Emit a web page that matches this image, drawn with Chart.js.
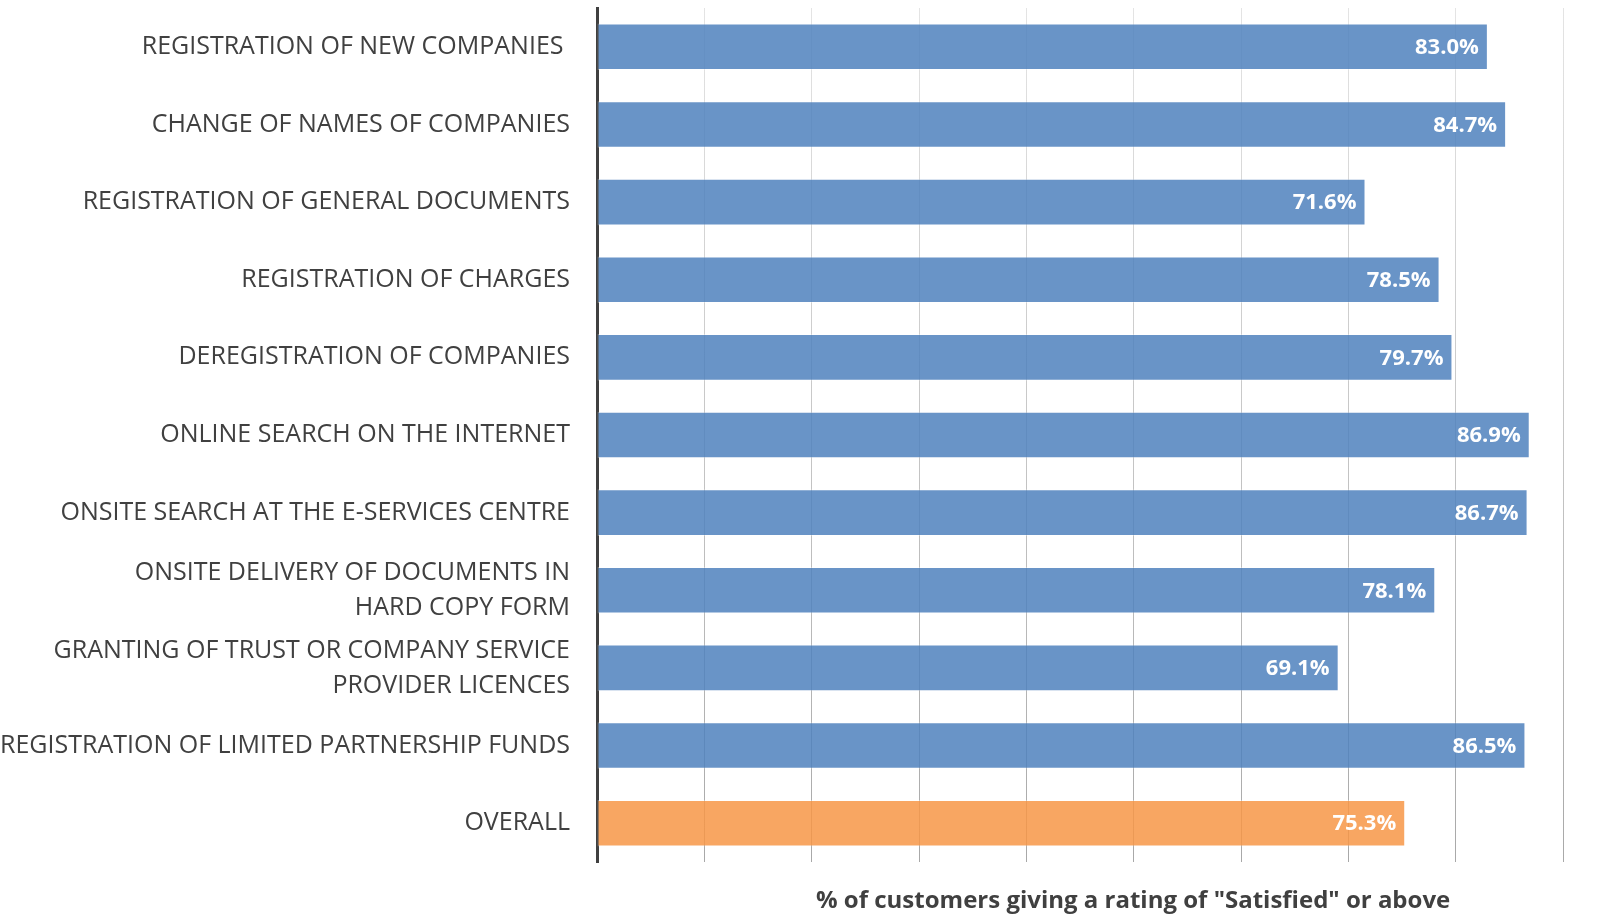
<!DOCTYPE html>
<html>
<head>
<meta charset="utf-8">
<script src="https://cdn.jsdelivr.net/npm/chart.js@4/dist/chart.umd.min.js"></script>
<style>
  html, body { margin: 0; padding: 0; background: #fff; }
  #wrap { width: 1612px; height: 920px; position: relative; }
</style>
</head>
<body>
<div id="wrap"><canvas id="chart"></canvas></div>
<script>
const categories = [
  'REGISTRATION OF NEW COMPANIES ',
  'CHANGE OF NAMES OF COMPANIES',
  'REGISTRATION OF GENERAL DOCUMENTS',
  'REGISTRATION OF CHARGES',
  'DEREGISTRATION OF COMPANIES',
  'ONLINE SEARCH ON THE INTERNET',
  'ONSITE SEARCH AT THE E-SERVICES CENTRE',
  ['ONSITE DELIVERY OF DOCUMENTS IN', 'HARD COPY FORM'],
  ['GRANTING OF TRUST OR COMPANY SERVICE', 'PROVIDER LICENCES'],
  'REGISTRATION OF LIMITED PARTNERSHIP FUNDS',
  'OVERALL'
];
const satisfied = [83.0, 84.7, 71.6, 78.5, 79.7, 86.9, 86.7, 78.1, 69.1, 86.5, 75.3];
const axisTitle = '% of customers giving a rating of "Satisfied" or above';

const BLUE = 'rgba(79,129,189,0.85)';
const ORANGE = 'rgba(247,150,70,0.85)';
const TEXT = '#404040';
const FONT = "'Open Sans', sans-serif";

// bars colour: last one (overall) is orange
const barColors = categories.map((c, i) => i === categories.length - 1 ? ORANGE : BLUE);

// white % labels inside the bar ends + axis title underneath
const valueLabels = {
  id: 'valueLabels',
  afterDatasetsDraw(chart) {
    const ctx = chart.ctx;
    const meta = chart.getDatasetMeta(0);
    ctx.save();
    ctx.fillStyle = '#fff';
    ctx.font = "bold 22px " + FONT;
    ctx.textAlign = 'right';
    ctx.textBaseline = 'middle';
    meta.data.forEach((bar, i) => {
      ctx.fillText(satisfied[i].toFixed(1) + '%', bar.x - 9, bar.y + 1);
    });
    ctx.restore();
  },
  afterDraw(chart) {
    const ctx = chart.ctx;
    const area = chart.chartArea;
    ctx.save();
    ctx.fillStyle = TEXT;
    ctx.font = "bold 24px " + FONT;
    ctx.textAlign = 'center';
    ctx.textBaseline = 'middle';
    ctx.fillText(axisTitle, area.left + (area.right - area.left) * 0.555, area.bottom + 39);
    ctx.restore();
  }
};

function gridColor(context) {
  if (context.index === 0) return 'rgba(0,0,0,0)';
  const area = context.chart.chartArea;
  if (!area) return '#cccccc';
  const g = context.chart.ctx.createLinearGradient(0, area.top, 0, area.bottom);
  g.addColorStop(0, '#e4e4e4');
  g.addColorStop(1, '#a8a8a8');
  return g;
}

new Chart(document.getElementById('chart'), {
  type: 'bar',
  data: {
    labels: categories,
    datasets: [{
      data: satisfied,
      backgroundColor: barColors,
      borderColor: 'rgba(255,255,255,0.3)',
      borderWidth: 1,
      borderSkipped: false,
      barPercentage: 0.6,
      categoryPercentage: 1.0
    }]
  },
  options: {
    indexAxis: 'y',
    responsive: true,
    maintainAspectRatio: false,
    animation: false,
    layout: { padding: { top: 8, right: 49, bottom: 58, left: 0 } },
    plugins: {
      legend: { display: false },
      tooltip: { enabled: false }
    },
    scales: {
      x: {
        min: 0,
        max: 90,
        ticks: { display: false, stepSize: 10 },
        grid: { color: gridColor, lineWidth: 1, drawTicks: false },
        border: { display: false },
        afterFit(scale) { scale.height = 0; }
      },
      y: {
        ticks: {
          color: TEXT,
          padding: 27,
          font: { family: FONT, size: 25, lineHeight: 1.4 }
        },
        grid: { display: false, drawTicks: false },
        border: { display: true, color: TEXT, width: 3 },
        afterFit(scale) {
          scale.width = 597;
          scale.paddingTop = 0;
          scale.paddingBottom = 0;
        }
      }
    }
  },
  plugins: [valueLabels]
});
</script>
</body>
</html>
